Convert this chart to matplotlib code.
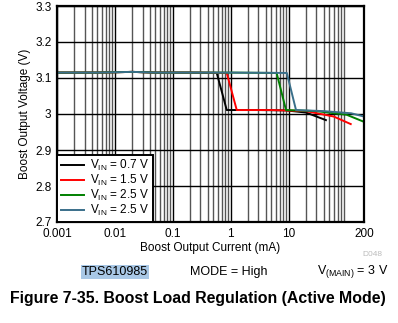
import matplotlib.pyplot as plt
from matplotlib.ticker import LogLocator, FixedLocator, NullFormatter

plt.rcParams.update({
    "font.family": ["Liberation Sans", "DejaVu Sans"],
    "font.size": 8.5,
})

# load current (mA) vs boost output voltage (V)
i_07 = [0.001, 0.005, 0.02, 0.05, 0.2, 0.573, 0.853, 3, 9, 20, 44]
v_07 = [3.115, 3.115, 3.117, 3.115, 3.115, 3.114, 3.011, 3.011, 3.010, 3.004, 2.983]
i_15 = [0.001, 0.005, 0.02, 0.05, 0.3, 0.853, 1.27, 5, 20, 60, 118]
v_15 = [3.115, 3.115, 3.117, 3.115, 3.115, 3.114, 3.011, 3.011, 3.008, 2.993, 2.972]
i_25a = [0.001, 0.005, 0.02, 0.05, 1, 6.2, 9.0, 30, 100, 195]
v_25a = [3.115, 3.115, 3.117, 3.115, 3.115, 3.114, 3.011, 3.008, 2.998, 2.979]
i_25b = [0.001, 0.005, 0.02, 0.05, 1, 9.3, 13.4, 40, 120, 200]
v_25b = [3.115, 3.115, 3.117, 3.115, 3.115, 3.114, 3.011, 3.008, 3.002, 2.993]

series = [
    (i_07, v_07, "0.7 V", "black"),
    (i_15, v_15, "1.5 V", "#ff0000"),
    (i_25a, v_25a, "2.5 V", "#008000"),
    (i_25b, v_25b, "2.5 V", "#3a6f8a"),
]

x_ticks = [0.001, 0.01, 0.1, 1, 10, 200]
x_labels = ["0.001", "0.01", "0.1", "1", "10", "200"]
y_ticks = [2.7, 2.8, 2.9, 3.0, 3.1, 3.2, 3.3]
y_labels = ["2.7", "2.8", "2.9", "3", "3.1", "3.2", "3.3"]

fig = plt.figure(figsize=(3.98, 3.23), dpi=100)
ax = fig.add_axes([57 / 398, 1 - 222 / 323, 307 / 398, 216 / 323])

for x, y, lab, c in series:
    ax.plot(x, y, color=c, lw=1.4, label=r"V$_{\mathregular{IN}}$ = " + lab)

ax.set_xscale("log")
ax.set_xlim(0.001, 200)
ax.set_ylim(2.7, 3.3)
ax.xaxis.set_major_locator(FixedLocator(x_ticks))
ax.set_xticklabels(x_labels)
ax.xaxis.set_minor_locator(LogLocator(base=10, subs=range(2, 10)))
ax.xaxis.set_minor_formatter(NullFormatter())
ax.set_yticks(y_ticks)
ax.set_yticklabels(y_labels)
ax.tick_params(which="both", length=0, labelsize=8.5, pad=4)

ax.grid(which="major", axis="both", color="black", lw=1.0)
ax.grid(which="minor", axis="x", color="#555555", lw=1.0)
ax.set_axisbelow(True)
for s in ax.spines.values():
    s.set_linewidth(1.6)

ax.set_xlabel("Boost Output Current (mA)", fontsize=8.5, labelpad=2)
ax.set_ylabel("Boost Output Voltage (V)", fontsize=8.5, labelpad=3)

leg = ax.legend(loc="lower left", frameon=True, fancybox=False, fontsize=8.5,
                borderaxespad=0, handlelength=2.0, handletextpad=0.5,
                labelspacing=0.0, borderpad=0.3)
leg.get_frame().set_edgecolor("black")
leg.get_frame().set_linewidth(1.4)
leg.get_frame().set_alpha(1)

fig.text(372 / 398, 1 - 255 / 323, "D048", fontsize=6, color="#bbbbbb",
         ha="center", va="center")
fig.text(115 / 398, 1 - 272 / 323, "TPS610985", fontsize=9, ha="center",
         va="center", bbox=dict(facecolor="#a9c8e6", edgecolor="none", pad=0.5))
fig.text(229 / 398, 1 - 272 / 323, "MODE = High", fontsize=9, ha="center",
         va="center")
fig.text(353 / 398, 1 - 272 / 323, r"V$_{\mathregular{(MAIN)}}$ = 3 V",
         fontsize=9, ha="center", va="center")
fig.text(198 / 398, 1 - 299 / 323,
         "Figure 7-35. Boost Load Regulation (Active Mode)",
         fontsize=11.4, fontweight="bold", ha="center", va="center")

fig.savefig("out.png", dpi=100)
